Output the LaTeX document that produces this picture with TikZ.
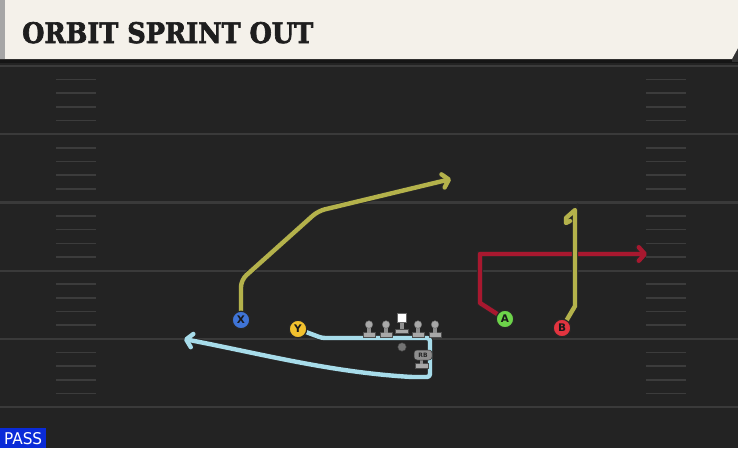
\documentclass[tikz,border=0pt]{standalone}
\usepackage{fontspec}
\setmainfont{DejaVu Sans}
\newfontfamily\titlefont[BoldFeatures={FakeBold=2.5}]{DejaVu Serif}
\newfontfamily\passfont{DejaVu Sans Condensed}
\usetikzlibrary{arrows.meta}
\definecolor{cream}{HTML}{F4F1EA}
\definecolor{fieldbg}{HTML}{232323}
\definecolor{topstrip}{HTML}{151515}
\definecolor{fieldline}{HTML}{3A3A3A}
\definecolor{hashc}{HTML}{3C3C3C}
\definecolor{olive}{HTML}{B4B24B}
\definecolor{routered}{HTML}{A8182F}
\definecolor{cyanr}{HTML}{A7DCEA}
\definecolor{pblue}{HTML}{3F74D6}
\definecolor{pyellow}{HTML}{F2C12E}
\definecolor{pgreen}{HTML}{6DD44A}
\definecolor{pred}{HTML}{E2343F}
\definecolor{passblue}{HTML}{0A2BD8}
\definecolor{peg}{HTML}{A8A8A8}
\definecolor{pegdark}{HTML}{8E8E8E}
\definecolor{titletext}{HTML}{1E1E1E}
\pgfdeclarelayer{back}
\pgfdeclarelayer{bg}
\pgfsetlayers{back,bg,main}
\tikzset{
  route/.style={line width=4.4pt, line join=round, line cap=round,
    preaction={draw=black!85, line width=6.2pt}},
  routearrow/.style={-{Straight Barb[length=6pt,width=13.5pt,round]}},
  player/.style={circle, minimum size=17.5pt, inner sep=0pt, draw=black!85, line width=1.2pt,
    font=\bfseries\fontsize{10.5}{10.5}\selectfont, text=black!90},
  pegbase/.style={fill=peg, draw=black!70, line width=0.5pt},
  pegstem/.style={fill=pegdark},
  peghead/.style={circle, inner sep=0pt, minimum size=7.6pt, fill=peg, draw=black!60, line width=0.4pt},
  hash/.style={draw=hashc, line width=1.6pt},
  yardline/.style={draw=fieldline, line width=2.2pt}
}
\begin{document}
\begin{tikzpicture}[x=1pt,y=-1pt]
\useasboundingbox (0,0) rectangle (738,448);
\begin{pgfonlayer}{back}
% field
\fill[fieldbg] (0,0) rectangle (738,448);
\fill[topstrip] (0,58) rectangle (738,63);
\foreach \yy in {66,134.2,202.4,270.6,338.8,407} {
  \draw[yardline] (0,\yy) -- (738,\yy);
}
\foreach \yy in {66,134.2,202.4,270.6,338.8} {
  \foreach \j in {1,2,3,4} {
    \draw[hash] (56,\yy+13.64*\j) -- (96,\yy+13.64*\j);
    \draw[hash] (646,\yy+13.64*\j) -- (686,\yy+13.64*\j);
  }
}
% title bar
\fill[black!80] (732,0) rectangle (738,62);
\fill[cream] (0,0) -- (738,0) -- (738,48) -- (732,59) -- (0,59) -- cycle;
\fill[black!35] (0,0) rectangle (5,59);
\end{pgfonlayer}
\node[anchor=base west, inner sep=0pt, text=titletext] (title) at (22,43)
  {\resizebox{291pt}{21pt}{\titlefont\bfseries ORBIT SPRINT OUT}};
% PASS tag
\fill[passblue] (0,428) rectangle (46,448);
\node[anchor=base west, inner sep=0pt, text=white] (pass) at (4,444.5)
  {\resizebox{38pt}{12pt}{\passfont PASS}};
% players
\node[player, fill=pblue] (X) at (241,320) {X};
\node[player, fill=pyellow] (Y) at (298,329) {Y};
\node[player, fill=pgreen] (A) at (505,319) {A};
\node[player, fill=pred] (B) at (562,328) {B};
% offensive line
\foreach \xx/\nm in {369/LT,386/LG,418/RG,435/RT} {
  \fill[pegbase] (\xx-6,332.5) rectangle (\xx+6,337);
  \fill[pegstem] (\xx-1.7,326) rectangle (\xx+1.7,332.5);
  \node[peghead] (\nm) at (\xx,324.5) {};
}
\fill[pegbase] (395.5,329) rectangle (408.5,333.5);
\fill[pegstem] (400.3,321) rectangle (403.7,329);
\node[fill=white, draw=black!60, line width=0.4pt, minimum size=9.5pt, inner sep=0pt] (C) at (401.5,317.5) {};
% QB
\node[circle, fill=black!55, draw=black!75, line width=0.4pt, minimum size=8.5pt, inner sep=0pt] (QB) at (402,347) {};
% RB
\fill[pegbase] (415,363.5) rectangle (428,368);
\fill[pegstem] (419.8,359) rectangle (423.2,363.5);
\node[fill=pegdark, draw=black!80, line width=0.5pt, rounded corners=3pt, minimum width=18pt, minimum height=10pt,
  inner sep=0pt, font=\bfseries\fontsize{6}{6}\selectfont, text=black!85] (RB) at (423,355) {RB};
% routes
\begin{pgfonlayer}{bg}
\draw[route, routearrow, olive, rounded corners=7pt] (X.center) -- (241,280) -- (318,211) -- (451,179);
\draw[route, routearrow, routered] (A.center) -- (480,303) -- (480,254) -- (647,254);
\draw[route, olive] (B.center) -- (575,306) -- (575,210) -- (566,218) -- (566,223) -- (570,221);
\draw[route, routearrow, cyanr, rounded corners=3pt] (Y.center) -- (322,338) -- (430,338) -- (430,377) -- (412,377)
  .. controls (330,372) and (262,354) .. (184,339);
\end{pgfonlayer}
\end{tikzpicture}
\end{document}
